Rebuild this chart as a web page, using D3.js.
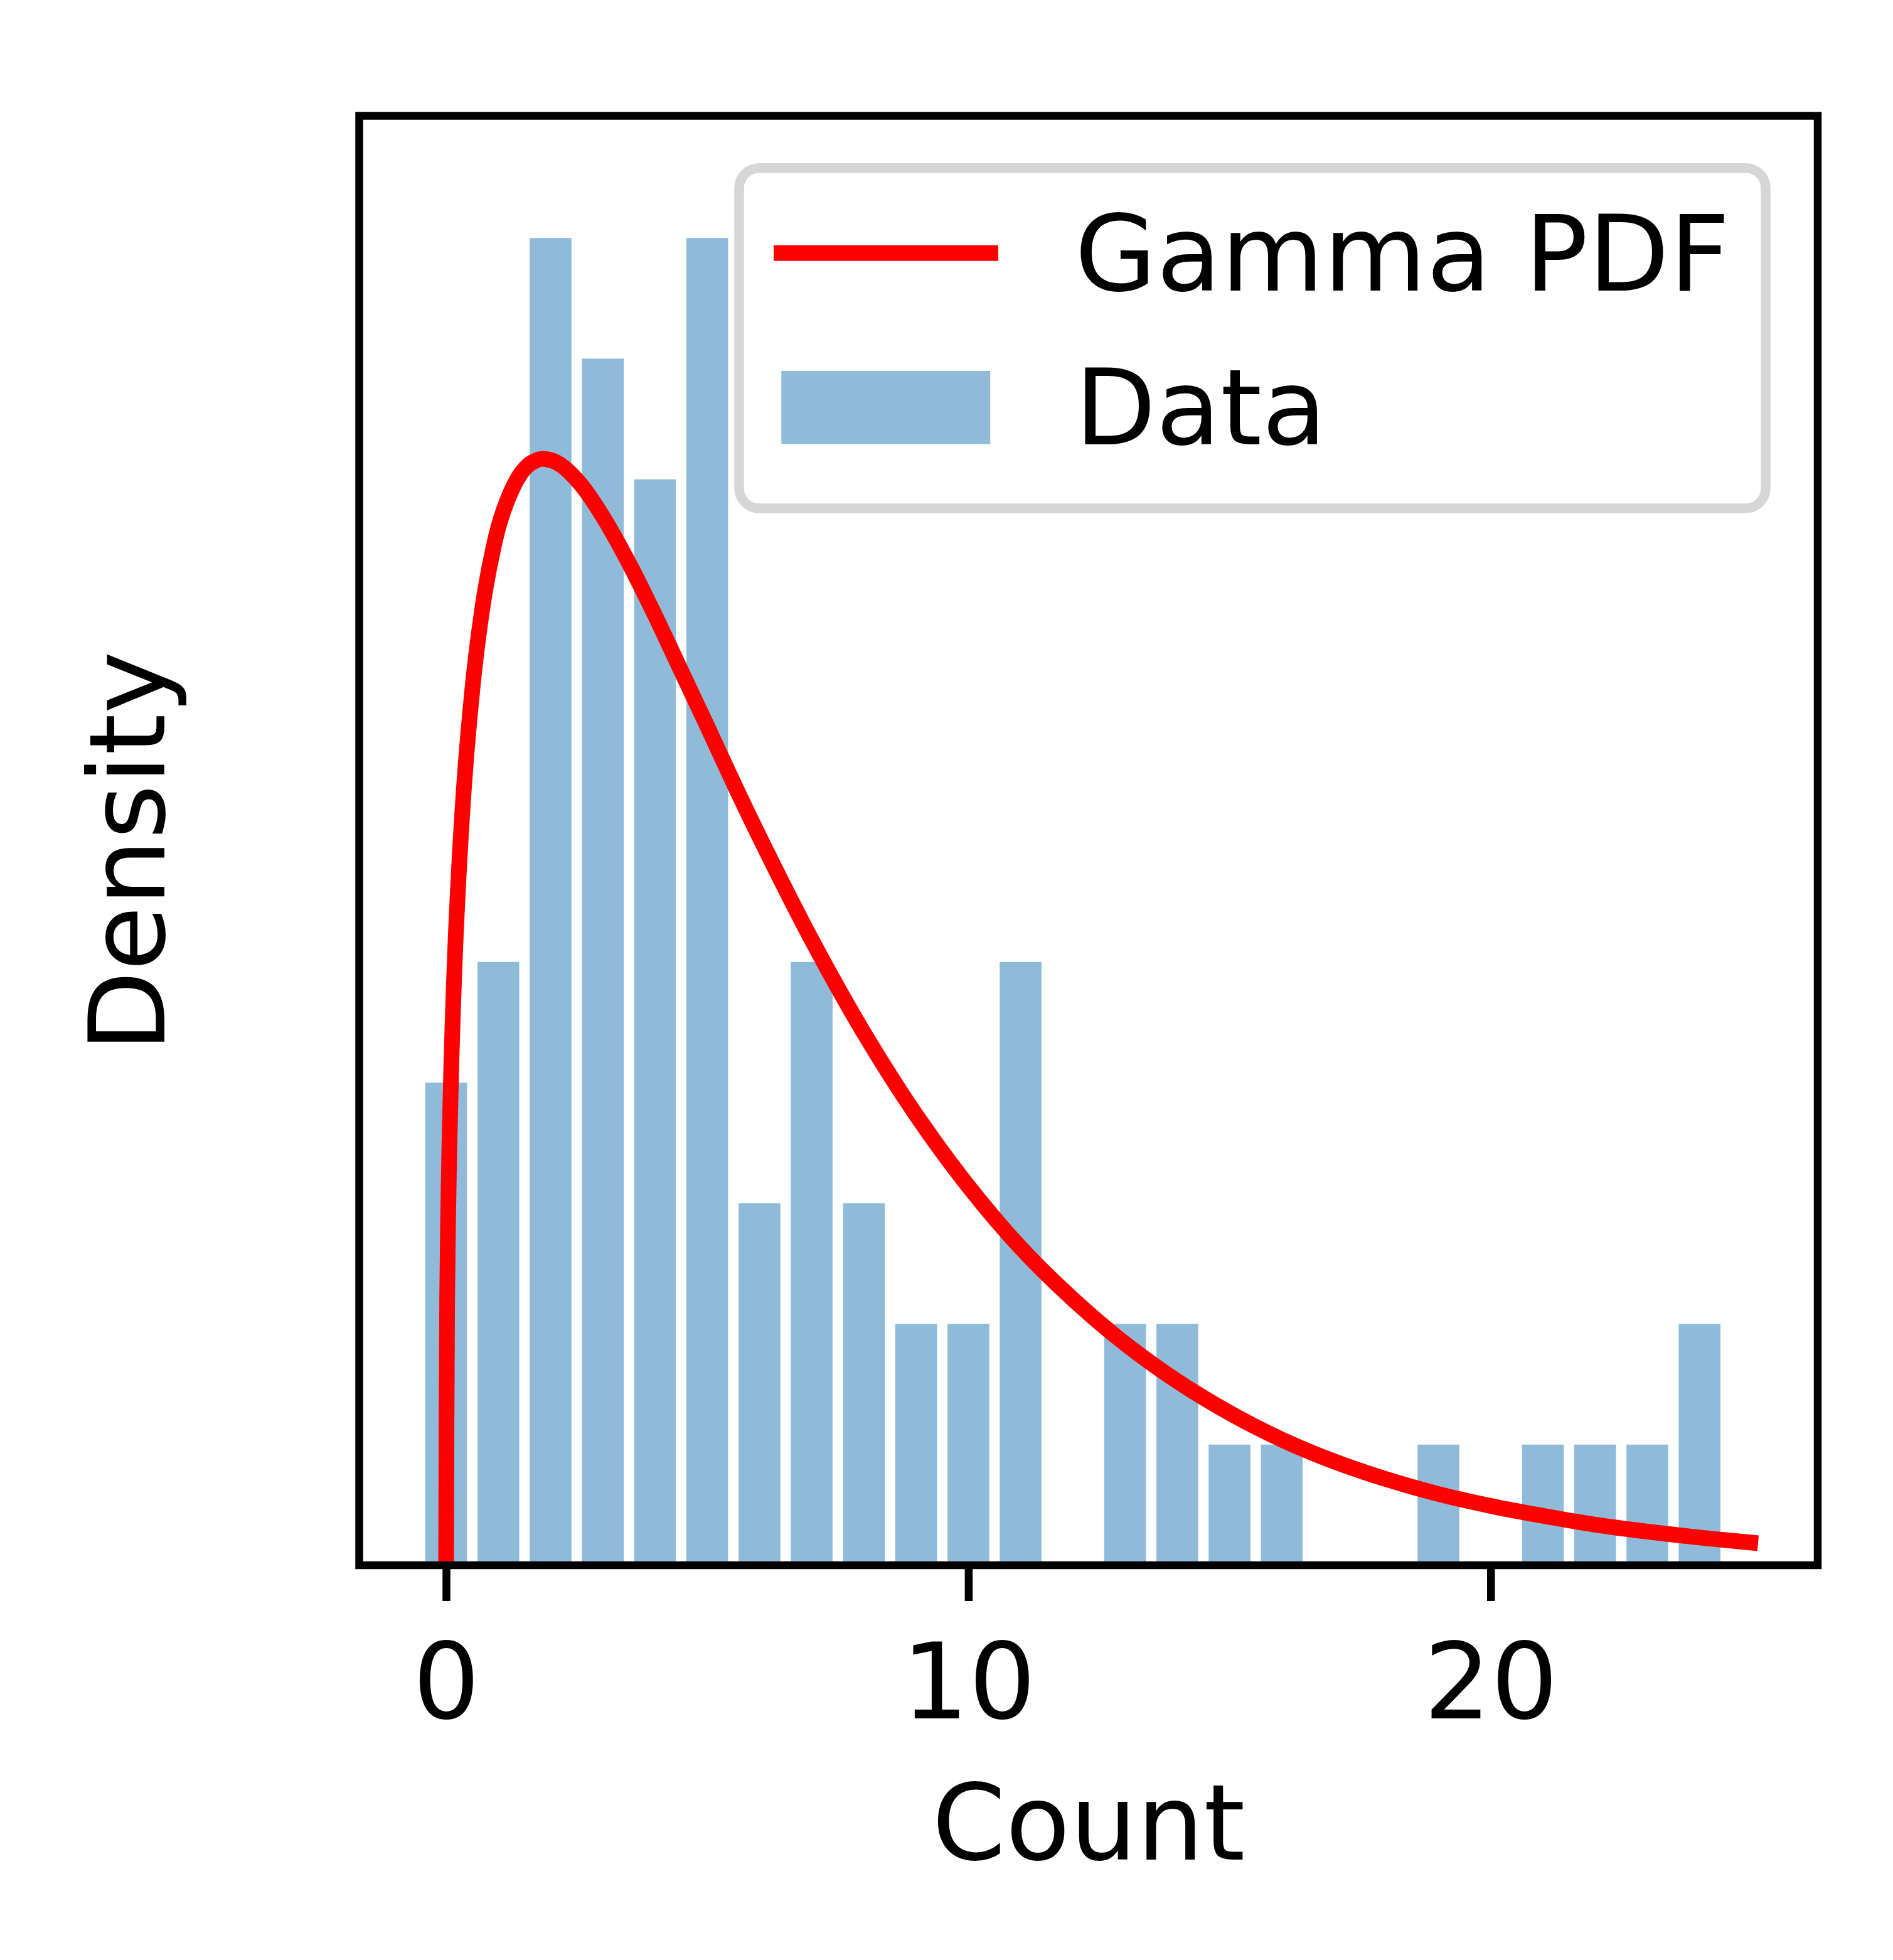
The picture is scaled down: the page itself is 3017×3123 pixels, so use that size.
<!DOCTYPE html>
<html>
<head>
<meta charset="utf-8">
<script src="https://cdn.jsdelivr.net/npm/d3@7"></script>
<style>
  html, body { margin: 0; padding: 0; background: #ffffff; }
  svg { display: block; }
  text { font-family: "DejaVu Sans", sans-serif; fill: #000; }
</style>
</head>
<body>
<svg id="chart" width="3017" height="3123"></svg>
<script>
// ---------------- data ----------------
// histogram: bins of width 1 centred on the integers 0..24, counts per bin
const binCenters = [0,1,2,3,4,5,6,7,8,9,10,11,12,13,14,15,16,17,18,19,20,21,22,23,24];
const binCounts  = [4,5,11,10,9,11,3,5,3,2,2,5,0,2,2,1,1,0,0,1,0,1,1,1,2];

// fitted curve (density)
const pdfX = [0, 0.02, 0.05, 0.1, 0.2, 0.35, 0.5, 0.6, 0.75, 0.9, 1.0, 1.1, 1.25, 1.4,
              1.5, 1.6, 1.7, 1.8, 1.9, 2.0, 2.1, 2.25, 2.6, 3, 3.5, 4, 4.5, 5, 5.5, 6,
              7, 8, 9, 10, 11, 12, 13, 14, 15, 16, 17, 18, 19, 20, 21, 22, 23, 24, 24.97];
const pdfY = [0, 0.0270, 0.0388, 0.0506, 0.0654, 0.0792, 0.0884, 0.0931, 0.0986, 0.1027,
              0.1049, 0.1066, 0.1086, 0.1101, 0.1108, 0.1113, 0.1116, 0.1118, 0.1118,
              0.1117, 0.1115, 0.1110, 0.1091, 0.1060, 0.1013, 0.0960, 0.0904, 0.0848,
              0.0791, 0.0736, 0.0632, 0.0538, 0.0455, 0.0383, 0.0321, 0.0269, 0.0224,
              0.0186, 0.0154, 0.0127, 0.0105, 0.0087, 0.0072, 0.0060, 0.0050, 0.0041,
              0.0034, 0.0028, 0.0023];

const xTicks = [0, 10, 20];
const xTickLabels = ["0", "10", "20"];
const xDomain = [-1.664, 26.262];
const yDomain = [0, 0.1465];
const legendLabels = ["Gamma PDF", "Data"];
const xLabel = "Count";
const yLabel = "Density";

// ---------------- layout ----------------
const ax = { left: 572.5, right: 2897, top: 184.5, bottom: 2494 };
const fontSize = 168;
const spineW = 12.5;
const barColor = "#8fbbd9";
const lineColor = "#ff0000";

const svg = d3.select("#chart");
const x = d3.scaleLinear().domain(xDomain).range([ax.left, ax.right]);
const y = d3.scaleLinear().domain(yDomain).range([ax.bottom, ax.top]);

const total = d3.sum(binCounts);
const bins = binCenters.map((c, i) => ({ c, density: binCounts[i] / total }));
const binWidth = 1, rwidth = 0.8;

// clip to axes area
svg.append("defs").append("clipPath").attr("id", "axclip")
  .append("rect")
  .attr("x", ax.left).attr("y", ax.top)
  .attr("width", ax.right - ax.left).attr("height", ax.bottom - ax.top);

const plot = svg.append("g").attr("clip-path", "url(#axclip)");

// bars
plot.selectAll("rect.bar")
  .data(bins.filter(d => d.density > 0))
  .join("rect")
  .attr("class", "bar")
  .attr("x", d => x(d.c - binWidth * rwidth / 2))
  .attr("width", d => x(d.c + binWidth * rwidth / 2) - x(d.c - binWidth * rwidth / 2))
  .attr("y", d => y(d.density))
  .attr("height", d => y(0) - y(d.density))
  .attr("fill", barColor);

// curve
const pdfPts = pdfX.map((v, i) => [v, pdfY[i]]);
const line = d3.line().x(d => x(d[0])).y(d => y(d[1])).curve(d3.curveCatmullRom.alpha(0.5));
plot.append("path")
  .datum(pdfPts)
  .attr("d", line)
  .attr("fill", "none")
  .attr("stroke", lineColor)
  .attr("stroke-width", 25)
  .attr("stroke-linecap", "square")
  .attr("stroke-linejoin", "round");

// frame
svg.append("rect")
  .attr("x", ax.left).attr("y", ax.top)
  .attr("width", ax.right - ax.left).attr("height", ax.bottom - ax.top)
  .attr("fill", "none").attr("stroke", "#000").attr("stroke-width", spineW)
  .attr("stroke-linejoin", "miter");

// x axis ticks
const xAxis = d3.axisBottom(x)
  .tickValues(xTicks)
  .tickFormat((d, i) => xTickLabels[i])
  .tickSize(57)
  .tickSizeOuter(0);
const gx = svg.append("g").attr("transform", `translate(0,${ax.bottom})`).call(xAxis);
gx.select(".domain").remove();
gx.selectAll(".tick line").attr("stroke", "#000").attr("stroke-width", spineW);
gx.selectAll(".tick text")
  .attr("y", 2738 - ax.bottom)
  .attr("dy", null)
  .attr("fill", "#000")
  .style("font-family", '"DejaVu Sans", sans-serif')
  .style("font-size", fontSize + "px");

// axis labels
svg.append("text")
  .attr("x", 1735).attr("y", 2963)
  .attr("text-anchor", "middle")
  .style("font-size", fontSize + "px")
  .text(xLabel);

svg.append("text")
  .attr("transform", "translate(262,1357) rotate(-90)")
  .attr("text-anchor", "middle")
  .style("font-size", fontSize + "px")
  .text(yLabel);

// legend
const lg = svg.append("g");
lg.append("rect")
  .attr("x", 1178).attr("y", 267.7)
  .attr("width", 2814 - 1178).attr("height", 810 - 267.7)
  .attr("rx", 32).attr("ry", 32)
  .attr("fill", "#ffffff").attr("fill-opacity", 0.8)
  .attr("stroke", "#d6d6d6").attr("stroke-width", 15.5);

lg.append("line")
  .attr("x1", 1245.5).attr("x2", 1578.5)
  .attr("y1", 403.3).attr("y2", 403.3)
  .attr("stroke", lineColor).attr("stroke-width", 25)
  .attr("stroke-linecap", "square");

lg.append("rect")
  .attr("x", 1245.3).attr("y", 591)
  .attr("width", 1578.2 - 1245.3).attr("height", 707.6 - 591)
  .attr("fill", barColor);

lg.selectAll("text.leg")
  .data(legendLabels)
  .join("text")
  .attr("class", "leg")
  .attr("x", 1713)
  .attr("y", (d, i) => i === 0 ? 462.5 : 707.6)
  .style("font-size", fontSize + "px")
  .text(d => d);
</script>
</body>
</html>
